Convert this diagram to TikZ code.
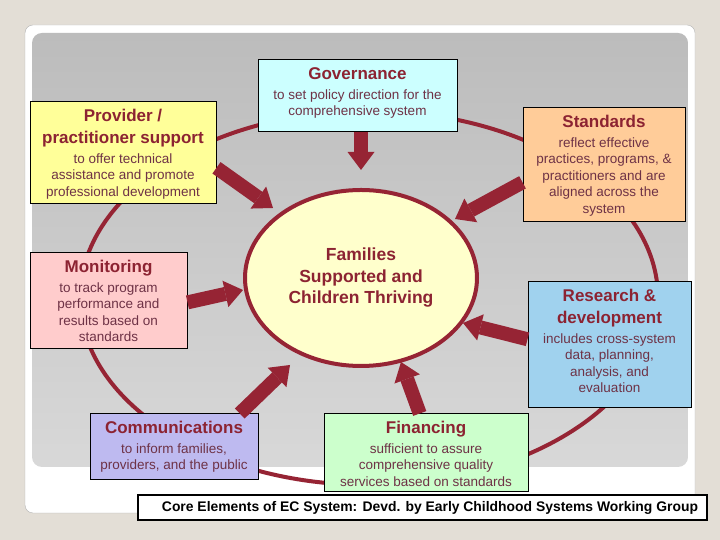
\documentclass[tikz,border=0pt]{standalone}
\usepackage{fontspec}
\setmainfont{Liberation Sans}
\usetikzlibrary{arrows.meta,shapes.geometric}

\definecolor{pagebg}{RGB}{227,222,214}
\definecolor{paneltop}{RGB}{188,188,188}
\definecolor{panelbot}{RGB}{216,216,216}
\definecolor{ringred}{RGB}{150,36,52}
\definecolor{titlered}{RGB}{140,35,50}
\definecolor{subtext}{RGB}{110,50,70}
\definecolor{govfill}{RGB}{204,255,255}
\definecolor{provfill}{RGB}{255,255,153}
\definecolor{standfill}{RGB}{255,204,153}
\definecolor{monfill}{RGB}{255,204,204}
\definecolor{resfill}{RGB}{160,210,238}
\definecolor{commfill}{RGB}{190,186,240}
\definecolor{finfill}{RGB}{204,255,204}
\definecolor{famfill}{RGB}{255,255,204}

% box text: width, height, title, description
\newcommand{\elemtext}[4]{\parbox[c][#2pt][t]{#1pt}{\centering
  {\fontsize{17}{22}\selectfont\bfseries\color{titlered}\rule{0pt}{20pt}#3\par}\vspace{3pt}
  {\fontsize{13.5}{16.5}\selectfont\color{subtext}#4\par}}}

\begin{document}
\begin{tikzpicture}[x=1pt,y=1pt,
  elem/.style={draw=black,line width=1pt,inner sep=0pt},
  bigarrow/.style={draw=ringred,line width=14pt,-{Triangle[width=27pt,length=18pt,line width=0pt]}}]
\fill[pagebg] (0,0) rectangle (720,540);
\draw[black!30,fill=white,rounded corners=8pt] (25,27) rectangle (695,515);
\shade[top color=paneltop,bottom color=panelbot,rounded corners=10pt] (32,73) rectangle (688,507);
\draw[ringred,line width=4pt] (369,242) ellipse [x radius=289pt,y radius=187pt];

\node[ellipse,draw=ringred,line width=4pt,fill=famfill,minimum width=232pt,minimum height=176pt,
  inner sep=0pt,align=center,text=titlered,font=\fontsize{17.5}{21.5}\selectfont\bfseries]
  (fam) at (361,262) {Families\\Supported and\\Children Thriving};

\node[elem,fill=govfill] (gov) at (357.5,444) {\elemtext{199}{72}{Governance}{to set policy direction for the\\comprehensive system}};
\node[elem,fill=provfill] (prov) at (123,387) {\elemtext{186}{102}{Provider /\\practitioner support}{to offer technical\\assistance and promote\\professional development}};
\node[elem,fill=standfill] (stand) at (604,375) {\elemtext{162}{114}{Standards}{reflect effective\\practices, programs, \&\\practitioners and are\\aligned across the\\system}};
\node[elem,fill=monfill] (mon) at (108.5,239) {\elemtext{157}{96}{Monitoring}{to track program\\performance and\\results based on\\standards}};
\node[elem,fill=resfill] (res) at (609.5,195) {\elemtext{163}{126}{Research \&\\development}{includes cross-system\\data, planning,\\analysis, and\\evaluation}};
\node[elem,fill=commfill] (comm) at (174,93) {\elemtext{168}{66}{Communications}{to inform families,\\providers, and the public}};
\node[elem,fill=finfill] (fin) at (426,87) {\elemtext{204}{78}{Financing}{sufficient to assure\\comprehensive quality\\services based on standards}};

\coordinate (tipG) at (361,370);
\coordinate (tipP) at (273,332);
\coordinate (tipS) at (455,321);
\coordinate (tipM) at (243,250);
\coordinate (tipR) at (463,217);
\coordinate (tipC) at (290,175);
\coordinate (tipF) at (401,178);
\draw[bigarrow] (gov.south -| tipG) -- (tipG);
\draw[bigarrow] (prov.-9) -- (tipP);
\draw[bigarrow] (stand.192) -- (tipS);
\draw[bigarrow] (mon.-1) -- (tipM);
\draw[bigarrow] (res.176) -- (tipR);
\draw[bigarrow] (comm.27) -- (tipC);
\draw[bigarrow] (fin.99) -- (tipF);

\node[draw=black,line width=1.5pt,fill=white,inner sep=0pt,minimum height=25pt,
  font=\fontsize{13.9}{16}\selectfont\bfseries] (caption) at (422.5,32.5)
  {\makebox[569pt][r]{Core Elements of EC System: Devd. by Early Childhood Systems Working Group\hspace{9pt}}};
\end{tikzpicture}
\end{document}
